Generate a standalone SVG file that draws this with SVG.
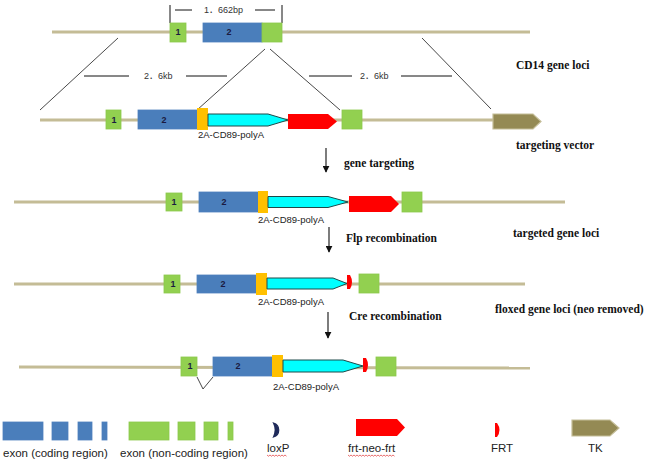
<svg xmlns="http://www.w3.org/2000/svg" width="645" height="463" viewBox="0 0 645 463">
<defs>
<marker id="ah" viewBox="0 0 10 10" refX="9" refY="5" markerWidth="7" markerHeight="7" markerUnits="userSpaceOnUse" orient="auto">
<path d="M0,0 L10,5 L0,10 Z" fill="#111"/>
</marker>
</defs>
<style>
.dna{stroke:#C4BC96;stroke-width:3;fill:none}
.gr{fill:#92D050;stroke:#8CC84B;stroke-width:0.8}
.bl{fill:#4A7EBB;stroke:#4F81BD;stroke-width:0.8}
.ye{fill:#FFC000}
.cy{fill:#00FFFF;stroke:#1E4A4A;stroke-width:1}
.rd{fill:#FF0000}
.tk{fill:#948A54;stroke:#C4BD97;stroke-width:1.2}
.ex{font-family:"Liberation Sans",Arial,sans-serif;font-size:9px;font-weight:bold;fill:#1A1A40;text-anchor:middle}
.pa{font-family:"Liberation Sans",Arial,sans-serif;font-size:9.5px;fill:#222}
.sz{font-family:"Liberation Sans","Noto Sans CJK SC",sans-serif;font-size:9px;fill:#333}
.lb{font-family:"Liberation Serif","Times New Roman",serif;font-size:11.5px;font-weight:bold;fill:#111}
.lg{font-family:"Liberation Sans",Arial,sans-serif;font-size:11.5px;fill:#222}
.ln{stroke:#333;stroke-width:0.9;fill:none}
.dash{stroke:#111;stroke-width:1;fill:none}
.ar{stroke:#111;stroke-width:1.1;fill:none}
</style>
<rect width="645" height="463" fill="#FFFFFF"/>

<g id="connectors">
<line class="ln" x1="118" y1="38" x2="40" y2="110"/>
<line class="ln" x1="265" y1="49" x2="197" y2="110"/>
<line class="ln" x1="270" y1="49" x2="340" y2="110"/>
<line class="ln" x1="422" y1="38" x2="491" y2="109"/>
<line class="ar" x1="326" y1="148" x2="326" y2="172" marker-end="url(#ah)"/>
<line class="ar" x1="329" y1="227" x2="329" y2="252" marker-end="url(#ah)"/>
<line class="ar" x1="328" y1="312" x2="328" y2="338" marker-end="url(#ah)"/>
</g>

<g id="size-1662bp">
<line class="dash" x1="170" y1="5" x2="170" y2="23"/>
<line class="dash" x1="282" y1="5" x2="282" y2="23"/>
<line class="dash" x1="175" y1="10" x2="192" y2="10"/>
<line class="dash" x1="255" y1="10" x2="275" y2="10"/>
<text class="sz" x="204" y="13">1．662bp</text>
</g>
<g id="size-2.6kb-left">
<line class="dash" x1="84" y1="76" x2="129" y2="76"/>
<line class="dash" x1="186" y1="76" x2="227" y2="76"/>
<text class="sz" x="144" y="79">2．6kb</text>
</g>
<g id="size-2.6kb-right">
<line class="dash" x1="309" y1="76" x2="352" y2="76"/>
<line class="dash" x1="401" y1="76" x2="452" y2="76"/>
<text class="sz" x="360" y="79">2．6kb</text>
</g>

<g id="row1-cd14">
<line class="dna" x1="52" y1="32" x2="530" y2="32"/>
<rect class="gr" x="170" y="23" width="16" height="19"/>
<text class="ex" x="178" y="35">1</text>
<rect class="bl" x="203" y="23" width="59" height="19"/>
<text class="ex" x="229" y="35">2</text>
<rect class="gr" x="262" y="23" width="20" height="19"/>
<text class="lb" x="516" y="69">CD14 gene loci</text>
</g>

<g id="row2-vector">
<line class="dna" x1="40" y1="120" x2="493" y2="120"/>
<rect class="gr" x="106" y="110" width="15" height="19"/>
<text class="ex" x="114" y="123">1</text>
<rect class="bl" x="138" y="110" width="59" height="19"/>
<text class="ex" x="164" y="123">2</text>
<rect class="ye" x="197" y="108" width="11" height="22"/>
<path class="cy" d="M208,114 H268 L288,120 L268,126 H208 Z"/>
<path class="rd" d="M288,114 H328 L337,121.5 L328,129 H288 Z"/>
<rect class="gr" x="342" y="110" width="20" height="19"/>
<path class="tk" d="M493,114 H533 L541,121.5 L533,129 H493 Z"/>
<text class="pa" x="198" y="138">2A-CD89-polyA</text>
<text class="lb" x="516" y="149">targeting vector</text>
</g>

<g id="step1">
<text class="lb" x="344" y="167">gene targeting</text>
</g>

<g id="row3-targeted">
<line class="dna" x1="14" y1="202" x2="565" y2="202"/>
<rect class="gr" x="166" y="193" width="16" height="18"/>
<text class="ex" x="174" y="205">1</text>
<rect class="bl" x="199" y="192" width="59" height="20"/>
<text class="ex" x="224" y="205">2</text>
<rect class="ye" x="258" y="191" width="10" height="22"/>
<path class="cy" d="M268,196.5 H328 L348,202 L328,207.5 H268 Z"/>
<path class="rd" d="M349,196 H391 L399,204 L391,212 H349 Z"/>
<rect class="gr" x="402" y="192" width="20" height="20"/>
<text class="pa" x="258" y="223">2A-CD89-polyA</text>
<text class="lb" x="513" y="237">targeted gene loci</text>
</g>

<g id="step2">
<text class="lb" x="346" y="242">Flp recombination</text>
</g>

<g id="row4-floxed">
<line class="dna" x1="14" y1="284" x2="525" y2="284"/>
<rect class="gr" x="164" y="275" width="16" height="18"/>
<text class="ex" x="173" y="287">1</text>
<rect class="bl" x="197" y="275" width="59" height="18"/>
<text class="ex" x="223" y="287">2</text>
<rect class="ye" x="256" y="273" width="11" height="22"/>
<path class="cy" d="M267,278 H333 L347,283.5 L333,289 H267 Z"/>
<path class="rd" d="M347,275 H350 Q354,282 350,289 H347 Z"/>
<rect class="gr" x="359" y="274" width="20" height="19"/>
<text class="pa" x="258" y="305">2A-CD89-polyA</text>
<text class="lb" x="495" y="313">floxed gene loci (neo removed)</text>
</g>

<g id="step3">
<text class="lb" x="349" y="320">Cre recombination</text>
</g>

<g id="row5-deleted">
<line class="dna" x1="19" y1="367" x2="530" y2="368"/>
<rect class="gr" x="181" y="357" width="16" height="19"/>
<text class="ex" x="190" y="369">1</text>
<rect class="bl" x="213" y="357" width="59" height="19"/>
<text class="ex" x="238" y="369">2</text>
<rect class="ye" x="272" y="355" width="11" height="22"/>
<path class="cy" d="M283,360 H343 L363,366 L343,372 H283 Z"/>
<path class="rd" d="M363,358 H366 Q370,365 366,372 H363 Z"/>
<rect class="gr" x="376" y="357" width="20" height="19"/>
<polyline class="ln" points="197,377 203,389 213,377"/>
<text class="pa" x="273" y="390">2A-CD89-polyA</text>
</g>

<g id="legend-coding">
<rect class="bl" x="3" y="422" width="40" height="18"/>
<rect class="bl" x="52" y="422" width="16" height="18"/>
<rect class="bl" x="78" y="422" width="14" height="18"/>
<rect class="bl" x="102" y="422" width="5" height="18"/>
<text class="lg" x="3" y="457">exon (coding region)</text>
</g>
<g id="legend-noncoding">
<rect class="gr" x="129" y="422" width="40" height="18"/>
<rect class="gr" x="178" y="422" width="17" height="18"/>
<rect class="gr" x="204" y="422" width="14" height="18"/>
<rect class="gr" x="228" y="422" width="5" height="18"/>
<text class="lg" x="120" y="457">exon (non-coding region)</text>
</g>
<g id="legend-loxp">
<path d="M273.5,423 C280.5,425 280.5,435 273.5,437 C275.5,433 275.5,427 273.5,423 Z" fill="#1F2A5A" stroke="#1F2A5A" stroke-width="1.2"/>
<text class="lg" x="267" y="452" font-size="10.5">loxP</text>
<path d="M267,455 l1.5,1.2 l1.5,-1.2 l1.5,1.2 l1.5,-1.2 l1.5,1.2 l1.5,-1.2 l1.5,1.2 l1.5,-1.2 l1.5,1.2 l1.5,-1.2 l1.5,1.2 l1.5,-1.2 l1.5,1.2" fill="none" stroke="#E03030" stroke-width="0.7"/>
</g>
<g id="legend-frt-neo-frt">
<path class="rd" d="M356,419 H397 L405,427.5 L397,436 H356 Z"/>
<text class="lg" x="348" y="452">frt-neo-frt</text>
<path d="M348,455 l1.5,1.2 l1.5,-1.2 l1.5,1.2 l1.5,-1.2 l1.5,1.2 l1.5,-1.2 l1.5,1.2 l1.5,-1.2 l1.5,1.2 l1.5,-1.2 l1.5,1.2 l1.5,-1.2 l1.5,1.2 l1.5,-1.2 l1.5,1.2 l1.5,-1.2 l1.5,1.2 l1.5,-1.2 l1.5,1.2 l1.5,-1.2 l1.5,1.2 l1.5,-1.2 l1.5,1.2 l1.5,-1.2 l1.5,1.2 l1.5,-1.2 l1.5,1.2 l1.5,-1.2 l1.5,1.2 l1.5,-1.2 l1.5,1.2" fill="none" stroke="#E03030" stroke-width="0.7"/>
</g>
<g id="legend-frt">
<path class="rd" d="M495,423 H497 Q502,430 497,437 H495 Z"/>
<text class="lg" x="491" y="452">FRT</text>
</g>
<g id="legend-tk">
<path class="tk" d="M572,420 H610 L619,428 L610,436 H572 Z"/>
<text class="lg" x="588" y="452">TK</text>
</g>
</svg>
